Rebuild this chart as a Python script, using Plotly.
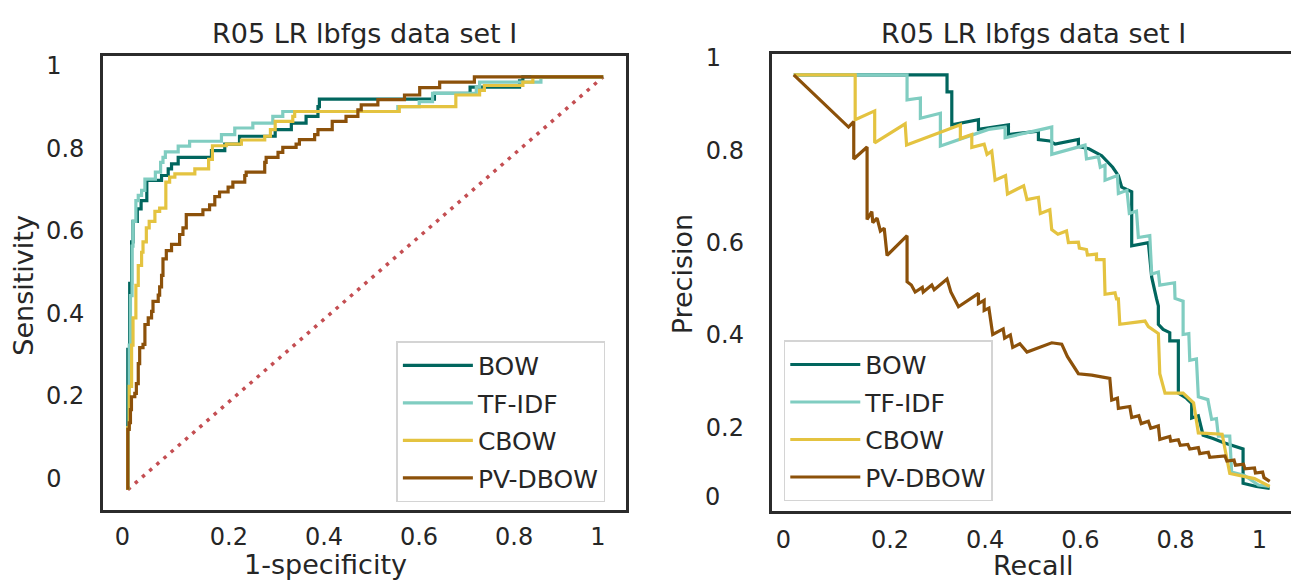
import plotly.graph_objects as go

W, H = 1293, 583

series = ["BOW", "TF-IDF", "CBOW", "PV-DBOW"]
colors = ["#01665e", "#80cdc1", "#e4c340", "#8c510a"]
diag_color = "#c44e52"
title_text = "R05 LR lbfgs data set I"

# ---------------- ROC data (step points: fpr where tpr rises, tpr after rise)
bow_fpr = [0, 0, 0.004, 0.008, 0.011, 0.02, 0.028, 0.04, 0.071, 0.085, 0.092, 0.106, 0.176, 0.204, 0.235,
           0.31, 0.344, 0.375, 0.40, 0.403, 0.645, 0.72, 0.824, 0.831, 1.0]
bow_tpr = [0, 0.34, 0.50, 0.60, 0.65, 0.68, 0.70, 0.749, 0.761, 0.777, 0.789, 0.805, 0.821, 0.837, 0.856,
           0.872, 0.888, 0.904, 0.928, 0.946, 0.96, 0.975, 0.99, 1.0, 1.0]

tfidf_fpr = [0, 0, 0.003, 0.0056, 0.009, 0.011, 0.017, 0.022, 0.029, 0.036, 0.058, 0.069, 0.074, 0.079,
             0.106, 0.130, 0.197, 0.225, 0.263, 0.305, 0.326, 0.568, 0.613, 0.641, 0.733, 0.740, 0.869, 1.0]
tfidf_tpr = [0, 0.15, 0.35, 0.47, 0.59, 0.65, 0.70, 0.713, 0.725, 0.752, 0.769, 0.793, 0.805, 0.818,
             0.832, 0.844, 0.860, 0.876, 0.888, 0.904, 0.916, 0.928, 0.940, 0.960, 0.975, 0.987, 1.0, 1.0]

cbow_fpr = [0, 0, 0.003, 0.008, 0.011, 0.017, 0.022, 0.029, 0.032, 0.039, 0.045, 0.057, 0.067, 0.080,
            0.088, 0.099, 0.141, 0.170, 0.178, 0.207, 0.239, 0.288, 0.300, 0.310, 0.347, 0.351, 0.571,
            0.690, 0.740, 0.750, 0.831, 0.852, 1.0]
cbow_tpr = [0, 0.15, 0.25, 0.35, 0.416, 0.495, 0.543, 0.575, 0.60, 0.634, 0.65, 0.674, 0.682, 0.745,
            0.757, 0.765, 0.777, 0.80, 0.833, 0.837, 0.847, 0.856, 0.872, 0.892, 0.904, 0.916, 0.928,
            0.956, 0.967, 0.979, 0.987, 1.0, 1.0]

pvdbow_fpr = [0, 0, 0.003, 0.0056, 0.0077, 0.0147, 0.018, 0.022, 0.025, 0.032, 0.036, 0.043, 0.050, 0.053,
              0.064, 0.067, 0.071, 0.074, 0.081, 0.092, 0.109, 0.116, 0.123, 0.158, 0.172, 0.183, 0.193,
              0.211, 0.221, 0.246, 0.249, 0.288, 0.291, 0.316, 0.326, 0.354, 0.361, 0.393, 0.400, 0.430,
              0.459, 0.484, 0.491, 0.526, 0.582, 0.614, 0.656, 0.729, 1.0]
pvdbow_tpr = [0, 0.146, 0.162, 0.194, 0.225, 0.233, 0.257, 0.305, 0.344, 0.352, 0.40, 0.416, 0.432, 0.456,
              0.471, 0.491, 0.519, 0.559, 0.579, 0.594, 0.618, 0.634, 0.666, 0.678, 0.69, 0.71, 0.721,
              0.733, 0.745, 0.761, 0.769, 0.793, 0.805, 0.817, 0.829, 0.837, 0.848, 0.860, 0.872, 0.892,
              0.904, 0.920, 0.932, 0.945, 0.956, 0.974, 0.987, 1.0, 1.0]

diag_x = [0, 1]
diag_y = [0, 1]

# ---------------- Precision-recall data
bow_rec = [0, 0.322, 0.322, 0.332, 0.332, 0.388, 0.388, 0.451, 0.451, 0.514, 0.514, 0.538, 0.549, 0.598,
           0.598, 0.62, 0.647, 0.657, 0.67, 0.682, 0.689, 0.71, 0.71, 0.745, 0.752, 0.762, 0.766, 0.766,
           0.776, 0.79, 0.79, 0.808, 0.808, 0.825, 0.836, 0.836, 0.85, 0.86, 0.881, 0.902, 0.944, 0.944,
           0.972, 1.0]
bow_prec = [1, 1, 0.963, 0.963, 0.892, 0.903, 0.882, 0.892, 0.871, 0.878, 0.860, 0.857, 0.850, 0.860,
            0.845, 0.84, 0.825, 0.814, 0.80, 0.782, 0.757, 0.747, 0.63, 0.637, 0.562, 0.516, 0.50, 0.46,
            0.449, 0.442, 0.424, 0.424, 0.311, 0.30, 0.289, 0.257, 0.262, 0.22, 0.213, 0.204, 0.19, 0.116,
            0.109, 0.105]

tfidf_rec = [0, 0.238, 0.238, 0.266, 0.266, 0.308, 0.308, 0.409, 0.444, 0.444, 0.542, 0.542, 0.612, 0.615,
             0.64, 0.644, 0.654, 0.654, 0.68, 0.682, 0.70, 0.705, 0.72, 0.724, 0.748, 0.752, 0.766, 0.769,
             0.80, 0.801, 0.818, 0.818, 0.83, 0.832, 0.846, 0.85, 0.87, 0.878, 0.888, 0.892, 0.916, 0.92,
             0.947, 0.976, 1.0]
tfidf_prec = [1, 1, 0.946, 0.95, 0.906, 0.917, 0.846, 0.882, 0.887, 0.864, 0.887, 0.828, 0.848, 0.818,
              0.823, 0.80, 0.805, 0.772, 0.782, 0.743, 0.75, 0.70, 0.705, 0.648, 0.652, 0.569, 0.573, 0.545,
              0.55, 0.516, 0.51, 0.438, 0.44, 0.382, 0.385, 0.303, 0.297, 0.254, 0.256, 0.218, 0.218, 0.14,
              0.133, 0.112, 0.109]

cbow_rec = [0, 0.129, 0.129, 0.17, 0.17, 0.234, 0.237, 0.35, 0.35, 0.374, 0.374, 0.40, 0.406, 0.416, 0.423,
            0.445, 0.449, 0.483, 0.49, 0.514, 0.518, 0.538, 0.542, 0.555, 0.573, 0.577, 0.598, 0.60, 0.615,
            0.617, 0.636, 0.636, 0.652, 0.654, 0.675, 0.678, 0.682, 0.685, 0.738, 0.745, 0.766, 0.769, 0.78,
            0.818, 0.84, 0.85, 0.90, 0.916, 0.968, 1.0]
cbow_prec = [1, 1, 0.903, 0.922, 0.853, 0.894, 0.848, 0.892, 0.862, 0.871, 0.843, 0.85, 0.828, 0.835, 0.772,
             0.782, 0.742, 0.76, 0.73, 0.735, 0.70, 0.708, 0.665, 0.655, 0.662, 0.637, 0.638, 0.625, 0.622,
             0.61, 0.612, 0.60, 0.60, 0.525, 0.528, 0.515, 0.515, 0.46, 0.467, 0.455, 0.44, 0.353, 0.311,
             0.311, 0.29, 0.225, 0.222, 0.137, 0.126, 0.109]

pvdbow_rec = [0, 0.115, 0.126, 0.126, 0.154, 0.154, 0.164, 0.166, 0.175, 0.182, 0.19, 0.196, 0.238, 0.238,
              0.247, 0.255, 0.27, 0.272, 0.29, 0.295, 0.322, 0.33, 0.346, 0.388, 0.388, 0.40, 0.40, 0.41,
              0.418, 0.44, 0.443, 0.455, 0.46, 0.475, 0.49, 0.542, 0.563, 0.575, 0.598, 0.626,
              0.664, 0.668, 0.68, 0.682, 0.706, 0.71, 0.725, 0.73, 0.745, 0.75, 0.766, 0.769, 0.79, 0.792,
              0.808, 0.812, 0.828, 0.832, 0.85, 0.853, 0.871, 0.874, 0.906, 0.91, 0.925, 0.928, 0.945, 0.948,
              0.968, 0.97, 0.985, 0.988, 1.0]
pvdbow_prec = [1, 0.887, 0.899, 0.818, 0.844, 0.687, 0.704, 0.68, 0.69, 0.662, 0.668, 0.609, 0.652, 0.552,
               0.545, 0.53, 0.54, 0.53, 0.545, 0.535, 0.558, 0.53, 0.498, 0.527, 0.505, 0.512, 0.49, 0.495,
               0.438, 0.45, 0.43, 0.437, 0.41, 0.418, 0.40, 0.42, 0.417, 0.39, 0.353, 0.35,
               0.343, 0.296, 0.30, 0.278, 0.282, 0.258, 0.262, 0.245, 0.25, 0.235, 0.24, 0.211, 0.217, 0.207,
               0.21, 0.198, 0.20, 0.19, 0.193, 0.18, 0.183, 0.172, 0.175, 0.164, 0.166, 0.155, 0.157, 0.147,
               0.149, 0.138, 0.14, 0.128, 0.12]

tick_vals = [0, 0.2, 0.4, 0.6, 0.8, 1.0]
PAD = "\u00a0\u00a0\u00a0"
tick_text = ["0" + PAD, "0.2", "0.4", "0.6", "0.8", "1" + PAD]
pr_ytick_vals = [0.2, 0.4, 0.6, 0.8, 1.0]
pr_ytick_text = ["0.2", "0.4", "0.6", "0.8", "1" + PAD]

roc_x = [bow_fpr, tfidf_fpr, cbow_fpr, pvdbow_fpr]
roc_y = [bow_tpr, tfidf_tpr, cbow_tpr, pvdbow_tpr]
pr_x = [bow_rec, tfidf_rec, cbow_rec, pvdbow_rec]
pr_y = [bow_prec, tfidf_prec, cbow_prec, pvdbow_prec]

FONT = "DejaVu Sans"
TXT = "#262626"

def fx(p):
    return p / W

def fy(p):
    return 1 - p / H

fig = go.Figure()

fig.add_trace(go.Scatter(x=diag_x, y=diag_y, mode="lines", showlegend=False,
                         line=dict(color=diag_color, width=3.5, dash="3.5px,6px"),
                         xaxis="x", yaxis="y", hoverinfo="skip"))

for name, c, xs, ys in zip(series, colors, roc_x, roc_y):
    fig.add_trace(go.Scatter(x=xs, y=ys, mode="lines", name=name, line=dict(color=c, width=3.2, shape="hv"),
                             xaxis="x", yaxis="y", legend="legend", legendgroup="roc_" + name))

for name, c, xs, ys in zip(series, colors, pr_x, pr_y):
    fig.add_trace(go.Scatter(x=xs, y=ys, mode="lines", name=name, line=dict(color=c, width=3.2),
                             xaxis="x2", yaxis="y2", legend="legend2", legendgroup="pr_" + name))

axis_common = dict(showline=True, linecolor="#2b2b2b", linewidth=2.5, ticks="", showgrid=False,
                   zeroline=False, tickfont=dict(family=FONT, size=24, color=TXT))

legend_common = dict(bgcolor="rgba(255,255,255,0.85)", bordercolor="#d4d4d4", borderwidth=1.5,
                     font=dict(family=FONT, size=25, color=TXT), xanchor="left", yanchor="top",
                     itemwidth=70, tracegroupgap=2)

fig.update_layout(
    width=W, height=H, margin=dict(l=0, r=0, t=0, b=0),
    paper_bgcolor="white", plot_bgcolor="white",
    font=dict(family=FONT, color=TXT),
    xaxis=dict(domain=[fx(103), fx(627)], range=[-0.0525, 1.048], anchor="y", mirror=True,
               tickvals=tick_vals, ticktext=tick_text, ticklabelshift=6, ticklabelstandoff=3, **axis_common),
    yaxis=dict(domain=[fy(509), fy(47)], range=[-0.05, 1.05], anchor="x", mirror=True,
               tickvals=tick_vals, ticktext=tick_text, ticklabelshift=-11, ticklabelstandoff=11, **axis_common),
    xaxis2=dict(domain=[fx(772.7), 1.0], range=[-0.0468, 1.0447], anchor="y2", mirror=True,
                tickvals=tick_vals, ticktext=tick_text, ticklabelshift=1, ticklabelstandoff=6, **axis_common),
    yaxis2=dict(domain=[fy(509.3), fy(45)], range=[0.0568, 1.0447], anchor="x2", mirror=False,
                tickvals=pr_ytick_vals, ticktext=pr_ytick_text, ticklabelshift=-17, ticklabelstandoff=20,
                **axis_common),
    legend=dict(x=fx(397), y=fy(337), **legend_common),
    legend2=dict(x=fx(785), y=fy(336), **legend_common),
)

ann = [
    dict(text=title_text, x=fx(365), y=fy(24), size=27),
    dict(text=title_text, x=fx(1035), y=fy(24), size=27),
    dict(text="1-specificity", x=fx(326), y=fy(564), size=27),
    dict(text="Recall", x=fx(1035), y=fy(565), size=27),
    dict(text="0", x=fx(714), y=fy(496), size=24),
]
for a in ann:
    fig.add_annotation(text=a["text"], x=a["x"], y=a["y"], xref="paper", yref="paper", showarrow=False,
                       xanchor="center", yanchor="middle", font=dict(family=FONT, size=a["size"], color=TXT))

fig.add_annotation(text="Sensitivity", x=fx(23.5), y=fy(280), xref="paper", yref="paper", showarrow=False,
                   textangle=-90, xanchor="center", yanchor="middle",
                   font=dict(family=FONT, size=27, color=TXT))
fig.add_annotation(text="Precision", x=fx(683), y=fy(269), xref="paper", yref="paper", showarrow=False,
                   textangle=-90, xanchor="center", yanchor="middle",
                   font=dict(family=FONT, size=27, color=TXT))

fig.write_html("out.html")
